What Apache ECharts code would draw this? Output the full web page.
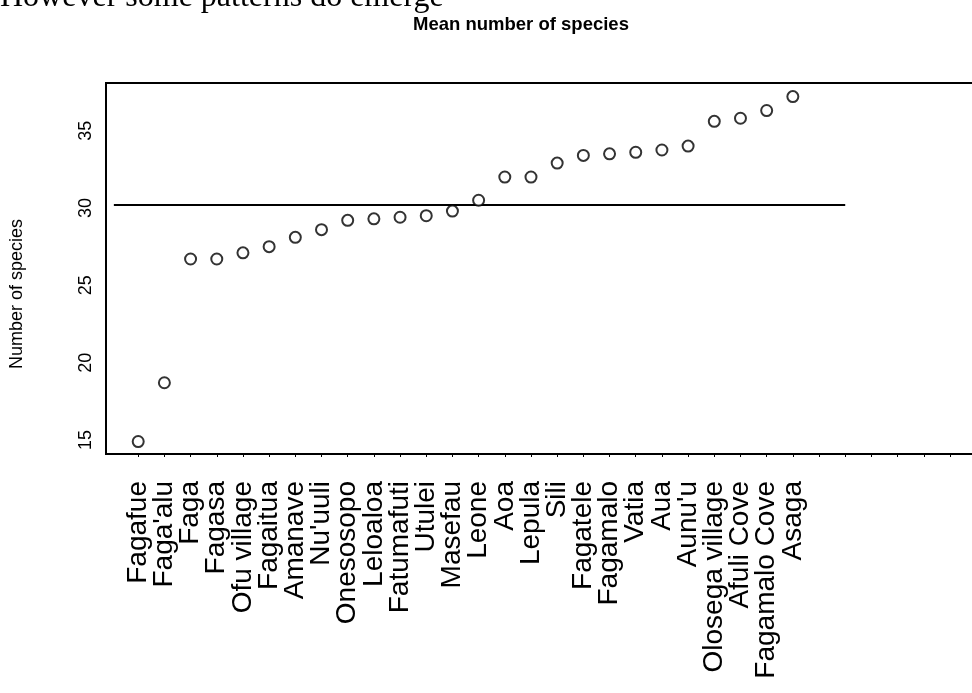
<!DOCTYPE html>
<html>
<head>
<meta charset="utf-8">
<script src="https://cdn.jsdelivr.net/npm/echarts@6/dist/echarts.min.js"></script>
<style>
html,body{margin:0;padding:0;background:#fff;}
#chart{width:972px;height:693px;}
</style>
</head>
<body>
<div id="chart"></div>
<script>
// ---- data ----
var siteNames = ["Fagafue","Faga'alu","Faga","Fagasa","Ofu village","Fagaitua","Amanave","Nu'uuli",
  "Onesosopo","Leloaloa","Fatumafuti","Utulei","Masefau","Leone","Aoa","Lepula","Sili","Fagatele",
  "Fagamalo","Vatia","Aua","Aunu'u","Olosega village","Afuli Cove","Fagamalo Cove","Asaga"];
var meanSpecies = [14.9,18.7,26.7,26.7,27.1,27.5,28.1,28.6,29.2,29.3,29.4,29.5,29.8,30.5,
  32.0,32.0,32.9,33.4,33.5,33.6,33.75,34.0,35.6,35.8,36.3,37.2];
var overallMean = 30.2;
var meanLineFrom = 0.07;
var meanLineTo = 28;
var xTickPositions = [1,2,3,4,5,6,7,8,9,10,11,12,13,14,15,16,17,18,19,20,21,22,23,24,25,26,27,28,29,30,31,32];
var xLabelPositions = [1,2,3,4,5,6,7,8,9,10,11,12,13,14,15,16,17,18,19,20,21,22,23,24,25,26];
var yTickValues = [15,20,25,30,35];
var chartTitle = "Mean number of species";
var yAxisTitle = "Number of species";
var headerText = "However some patterns do emerge";

var pointData = siteNames.map(function(n,i){ return [xLabelPositions[i], meanSpecies[i]]; });
// labels split over two axes so neighbouring labels are not auto-hidden
var oddLabels = xLabelPositions.filter(function(v){ return v % 2 === 1; });
var evenLabels = xLabelPositions.filter(function(v){ return v % 2 === 0; });

function labelAxis(vals, showTicks){
  return {
    type:'value', min:-0.23, max:33.3, position:'bottom', gridIndex:0,
    axisLine:{show:false},
    splitLine:{show:false},
    axisTick:{show:showTicks, length:3, lineStyle:{color:'#000', width:1}, customValues:xTickPositions},
    axisLabel:{
      show:true, rotate:90, margin:27, customValues:vals, padding:[10,0,0,0],
      showMinLabel:true, showMaxLabel:true, hideOverlap:false,
      fontFamily:'Liberation Sans, Arial, sans-serif', fontSize:28, color:'#000',
      formatter:function(v){ var i=Math.round(v)-1; return siteNames[i]||''; }
    }
  };
}

var chart = echarts.init(document.getElementById('chart'), null, {renderer:'canvas'});
chart.setOption({
  animation:false,
  backgroundColor:'#ffffff',
  title:{
    text: chartTitle,
    left: 516, top: 10, textAlign:'center',
    textStyle:{fontFamily:'Liberation Sans, Arial, sans-serif', fontWeight:'bold', fontSize:18.5, color:'#000'}
  },
  graphic:[
    {type:'text', left:0, top:-18, style:{text:headerText, font:'32px "Liberation Serif", "Times New Roman", serif', fill:'#000'}},
    {type:'text', x:17.5, y:294, rotation:Math.PI/2,
     style:{text:yAxisTitle, font:'18px "Liberation Sans", Arial, sans-serif', fill:'#000', align:'center', verticalAlign:'middle'}}
  ],
  grid:{left:106, top:83, width:878, bottom:239, containLabel:false, outerBoundsMode:'none',
        show:true, borderColor:'#000', borderWidth:2, backgroundColor:'transparent'},
  xAxis:[labelAxis(oddLabels, true), labelAxis(evenLabels, false)],
  yAxis:{
    type:'value', min:14.095, max:38.08,
    axisLine:{show:false},
    splitLine:{show:false},
    axisTick:{show:false, customValues:yTickValues},
    axisLabel:{show:true, rotate:90, margin:11, customValues:yTickValues,
      showMinLabel:true, showMaxLabel:true,
      fontFamily:'Liberation Sans, Arial, sans-serif', fontSize:18, color:'#000'}
  },
  series:[
    {type:'line', xAxisIndex:0, data:[[meanLineFrom, overallMean],[meanLineTo, overallMean]], symbol:'none',
     lineStyle:{color:'#000', width:2}, silent:true, z:2},
    {type:'scatter', xAxisIndex:0, data:pointData, symbol:'circle', symbolSize:11,
     itemStyle:{color:'#fff', borderColor:'#000', borderWidth:2}, z:3}
  ]
});
</script>
</body>
</html>
